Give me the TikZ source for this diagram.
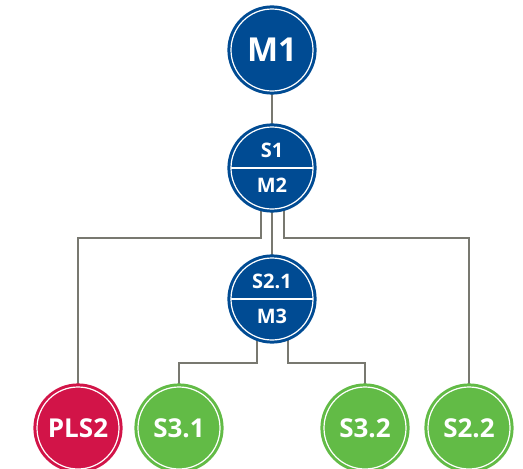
\documentclass[tikz,border=0pt]{standalone}
\usepackage{fontspec}
\setmainfont{Open Sans}
\usetikzlibrary{positioning,calc,backgrounds}

\definecolor{unitblue}{RGB}{0,75,147}
\definecolor{unitred}{RGB}{210,20,72}
\definecolor{unitgreen}{RGB}{98,187,70}
\definecolor{linkgray}{RGB}{120,120,112}

\tikzset{
  unit/.style={circle, minimum size=82pt, inner sep=0pt, outer sep=0pt, line width=3pt, double=white, double distance=1.2pt, text=white, font=\bfseries},
  blueunit/.style={unit, fill=unitblue, draw=unitblue},
  redunit/.style={unit, fill=unitred, draw=unitred},
  greenunit/.style={unit, fill=unitgreen, draw=unitgreen},
  bigtext/.style={font=\fontsize{33}{36}\bfseries\selectfont},
  smalltext/.style={text=white, inner sep=0pt, font=\fontsize{20}{22}\bfseries\selectfont},
  leaftext/.style={font=\fontsize{26}{28}\bfseries\selectfont},
  link/.style={draw=linkgray, line width=2.2pt},
}

\begin{document}
\begin{tikzpicture}[x=1pt,y=1pt,yscale=-1,xscale=1]
\useasboundingbox (0,0) rectangle (523,469);

% Units
\node (m1) [blueunit, bigtext] at (272,50) {M1};
\node (s1m2) [blueunit] at (272,168) {};
\node (s21m3) [blueunit] at (272,299) {};
\node (pls2) [redunit, leaftext] at (78,428) {PLS2};
\node (s31) [greenunit, leaftext] at (179,428) {S3.1};
\node (s32) [greenunit, leaftext] at (365,428) {S3.2};
\node (s22) [greenunit, leaftext] at (469,428) {S2.2};

% Split units
\draw [white, line width=1.5pt] (s1m2.west) -- (s1m2.east);
\draw [white, line width=1.5pt] (s21m3.west) -- (s21m3.east);
\node (s1) [smalltext] at ($(s1m2.center)+(0,-18)$) {S1};
\node (m2) [smalltext] at ($(s1m2.center)+(0,17)$) {M2};
\node (s21) [smalltext] at ($(s21m3.center)+(0,-18)$) {S2.1};
\node (m3) [smalltext] at ($(s21m3.center)+(0,17)$) {M3};

% Links
\begin{scope}[on background layer]
\draw [link] (m1) -- (s1m2);
\draw [link] (s1m2) -- (s21m3);
\draw [link] ($(s1m2.center)+(-11,0)$) -- ++(0,70) -| (pls2.center);
\draw [link] ($(s1m2.center)+(12,0)$) -- ++(0,70) -| (s22.center);
\draw [link] ($(s21m3.center)+(-15,0)$) -- ++(0,64) -| (s31.center);
\draw [link] ($(s21m3.center)+(16,0)$) -- ++(0,64) -| (s32.center);
\end{scope}

\end{tikzpicture}
\end{document}
